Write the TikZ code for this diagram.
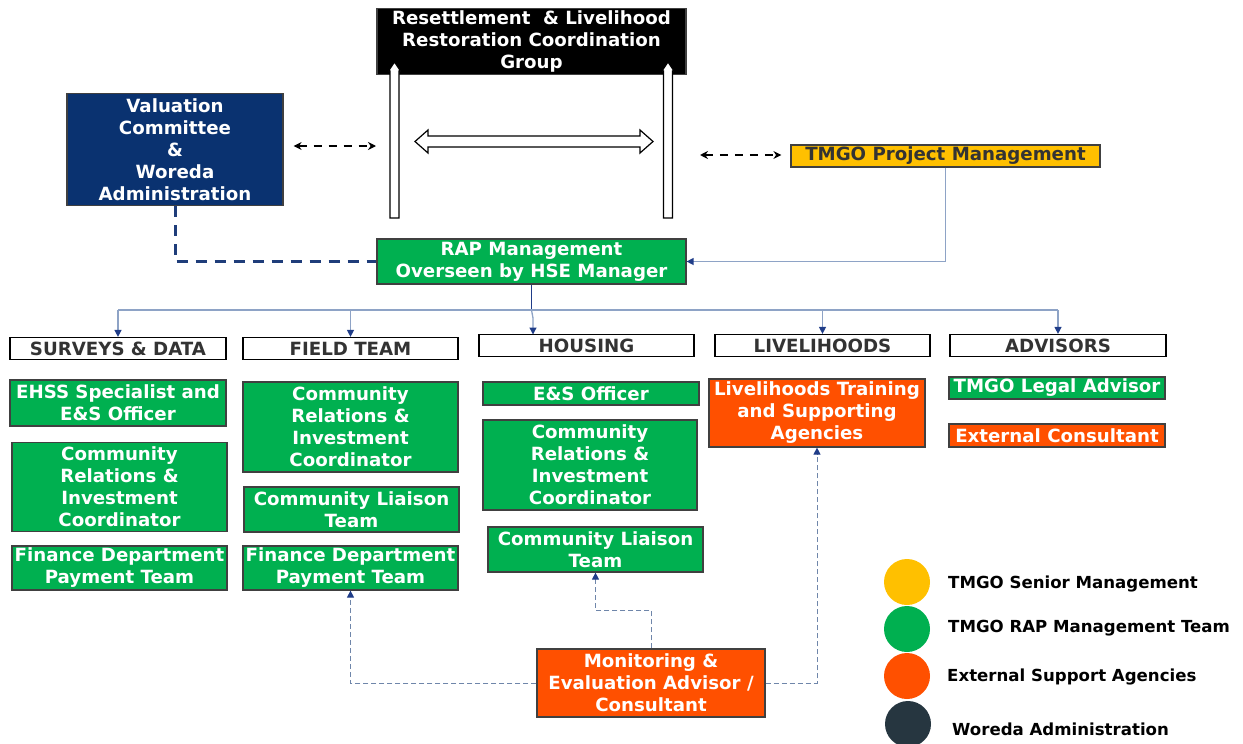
\documentclass[tikz,border=0pt]{standalone}
\usepackage{fontspec}
\setmainfont{DejaVu Sans}
\usetikzlibrary{arrows.meta,calc}
\definecolor{mygreen}{HTML}{00B050}
\definecolor{myorange}{HTML}{FF5000}
\definecolor{myyellow}{HTML}{FFC000}
\definecolor{mynavy}{HTML}{0A3270}
\definecolor{dashnavy}{HTML}{1F3D7A}
\definecolor{tipnavy}{HTML}{1F3C88}
\definecolor{steel}{HTML}{8EA3C6}
\definecolor{dsteel}{HTML}{6F86AA}
\definecolor{bordergray}{HTML}{404040}
\definecolor{hdrgray}{HTML}{333333}
\definecolor{legdark}{HTML}{263640}
\begin{document}
\begin{tikzpicture}[x=1pt,y=-1pt,
  box/.style={draw=bordergray, line width=1.2pt, inner sep=0pt, align=center,
    font=\bfseries\fontsize{18.2}{22}\selectfont},
  gbox/.style={box, fill=mygreen, text=white},
  obox/.style={box, fill=myorange, text=white},
  hbox/.style={box, fill=white, draw=black, text=hdrgray},
  tip/.style={-{Triangle[length=7pt,width=7pt,color=tipnavy]}},
  bus/.style={steel, line width=1.3pt},
  dconn/.style={dsteel, line width=1pt, dash pattern=on 5pt off 3pt},
  blackdash/.style={black, line width=2.4pt, dash pattern=on 8pt off 7pt,
    {Stealth[length=8pt,width=8pt]}-{Stealth[length=8pt,width=8pt]}},
  openarrow/.style={fill=white, draw=black, line width=1.2pt},
  legtext/.style={anchor=west, inner sep=0pt, text=black,
    font=\bfseries\fontsize{16.6}{18}\selectfont}
]
\useasboundingbox (0,0) rectangle (1243,744);

% top group
\node[box, fill=black, draw=bordergray, text=white, minimum width=309pt, minimum height=66pt] (rlr) at (531.5,41.5)
  {Resettlement \ \& Livelihood\\Restoration Coordination\\Group};

% open vertical arrows into top group
\foreach \cx in {394.5,668}{
  \filldraw[openarrow] (\cx-4.5,218) -- (\cx-4.5,71) -- (\cx-6,71) -- (\cx,62) -- (\cx+6,71) -- (\cx+4.5,71) -- (\cx+4.5,218) -- cycle;
}
% open horizontal double arrow
\filldraw[openarrow] (415,141.5) -- (428,130) -- (428,136) -- (640,136) -- (640,130) -- (653,141.5)
  -- (640,153) -- (640,147) -- (428,147) -- (428,153) -- cycle;

% valuation
\node[box, fill=mynavy, text=white, minimum width=216pt, minimum height=112pt] (val) at (175,149.5)
  {Valuation\\Committee\\\&\\Woreda\\Administration};

% TMGO project management
\node[box, fill=myyellow, text=hdrgray, minimum width=309pt, minimum height=22pt] (pm) at (945.5,156)
  {TMGO Project Management};

% RAP management
\node[gbox, minimum width=309pt, minimum height=45pt] (rap) at (531.5,261.5)
  {RAP Management\\Overseen by HSE Manager};

% coordinates for dashed links
\coordinate (lend) at (376,146);
\coordinate (rend) at (700,155);
\draw[blackdash] (val.east |- lend) ++(10,0) -- (lend);
\draw[blackdash] (rend) -- ($(pm.west |- rend)+(-9,0)$);

% valuation to RAP dashed
\draw[dashnavy, line width=3pt, dash pattern=on 11pt off 8pt] (val.south) -- (val.south |- rap.west) -- (rap.west);
% PM to RAP
\draw[bus, tip] (pm.south) -- (pm.south |- rap.east) -- (rap.east);

% headers
\node[hbox, minimum width=216pt, minimum height=22pt] (sd) at (118,348.5) {SURVEYS \& DATA};
\node[hbox, minimum width=215pt, minimum height=22pt] (ft) at (350.5,348.5) {FIELD TEAM};
\node[hbox, minimum width=215pt, minimum height=22pt] (ho) at (586.5,345.5) {HOUSING};
\node[hbox, minimum width=215pt, minimum height=22pt] (li) at (822.5,345.5) {LIVELIHOODS};
\node[hbox, minimum width=216pt, minimum height=22pt] (ad) at (1058,345.5) {ADVISORS};

% bus
\coordinate (busy) at (0,310);
\draw[tipnavy, line width=1.5pt] (rap.south) -- (rap.south |- busy);
\draw[bus] (sd.north |- busy) -- (ad.north |- busy);
\draw[bus, tip] (sd.north |- busy) -- (sd.north);
\draw[bus, tip] (ft.north |- busy) -- (ft.north);
\draw[bus, tip] (rap.south |- busy) -- (533,318) -- (533,334.5);
\draw[bus, tip] (li.north |- busy) -- (li.north);
\draw[bus, tip] (ad.north |- busy) -- (ad.north);

% column 1
\node[gbox, minimum width=216pt, minimum height=46pt] (c1a) at (118,403) {EHSS Specialist and\\E\&S Officer};
\node[gbox, minimum width=215pt, minimum height=89pt] (c1b) at (119.5,487) {Community\\Relations \&\\Investment\\Coordinator};
\node[gbox, minimum width=215pt, minimum height=44pt] (c1c) at (119.5,568) {Finance Department\\Payment Team};
% column 2
\node[gbox, minimum width=215pt, minimum height=90pt] (c2a) at (350.5,427) {Community\\Relations \&\\Investment\\Coordinator};
\node[gbox, minimum width=215pt, minimum height=45pt] (c2b) at (351.5,509.5) {Community Liaison\\Team};
\node[gbox, minimum width=215pt, minimum height=44pt] (c2c) at (350.5,568) {Finance Department\\Payment Team};
% column 3
\node[gbox, minimum width=216pt, minimum height=23pt] (c3a) at (591,393.5) {E\&S Officer};
\node[gbox, minimum width=214pt, minimum height=90pt] (c3b) at (590,465) {Community\\Relations \&\\Investment\\Coordinator};
\node[gbox, minimum width=215pt, minimum height=45pt] (c3c) at (595.5,549.5) {Community Liaison\\Team};
% column 4
\node[obox, minimum width=216pt, minimum height=68pt] (c4a) at (817,413) {Livelihoods Training\\and Supporting\\Agencies};
% column 5
\node[gbox, minimum width=216pt, minimum height=22pt] (c5a) at (1057,388) {TMGO Legal Advisor};
\node[obox, minimum width=216pt, minimum height=23pt] (c5b) at (1057,435.5) {External Consultant};

% monitoring
\node[obox, minimum width=228pt, minimum height=68pt] (mon) at (651,683) {Monitoring \&\\Evaluation Advisor /\\Consultant};

\coordinate (mk) at (0,610);
\draw[dconn, tip] (mon.west) -| (c2c.south);
\draw[dconn, tip] (mon.north) -- (mon.north |- mk) -| (c3c.south);
\draw[dconn, tip] (mon.east) -| (c4a.south);

% legend
\fill[myyellow] (907,582) circle (23);
\fill[mygreen] (907,629) circle (23);
\fill[myorange] (907,676) circle (23);
\fill[legdark] (908,724) circle (23);
\node[legtext] (l1) at (948,584) {TMGO Senior Management};
\node[legtext] (l2) at (948,628) {TMGO RAP Management Team};
\node[legtext] (l3) at (947,677) {External Support Agencies};
\node[legtext] (l4) at (952,729) {Woreda Administration};
\end{tikzpicture}
\end{document}
